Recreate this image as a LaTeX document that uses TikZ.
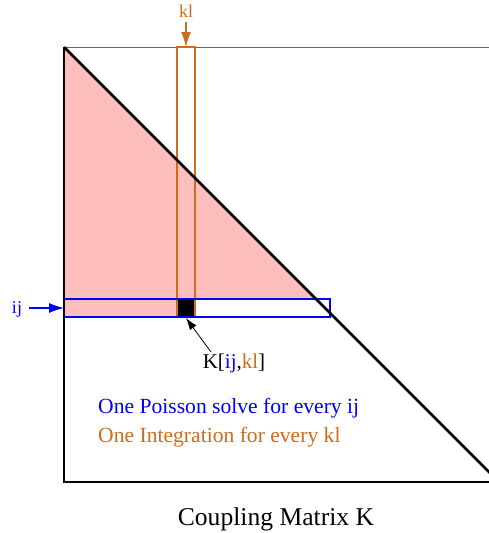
\documentclass[tikz,border=0pt]{standalone}
\usepackage{fontspec}
\setmainfont{Liberation Serif}
\usetikzlibrary{arrows.meta}
\definecolor{klorange}{RGB}{204,108,28}
\definecolor{ijblue}{RGB}{0,0,255}
\definecolor{pinkfill}{RGB}{255,190,190}
\begin{document}
\begin{tikzpicture}[x=1pt,y=-1pt,
  thickline/.style={line width=2.8pt,black},
  arr/.style={-{Latex[length=15pt,width=10pt]}},
  smallarr/.style={-{Latex[length=12pt,width=8pt]}},
  lbl/.style={inner sep=0pt,anchor=base}]
\useasboundingbox (0,0) rectangle (489,533);
% coordinates
\coordinate (TL) at (64,47);
\coordinate (BL) at (64,482);
\coordinate (BR) at (489,482);
\coordinate (TR) at (489,47);
\coordinate (DR) at (499,482);
% pink fill
\fill[pinkfill] (64,47) -- (316,299) -- (64,299) -- cycle;
\fill[pinkfill] (64,299) rectangle (177,317);
% black square
\fill[black] (177,299) rectangle (195,317);
% top line
\draw[line width=1pt,black!60] (TL) -- (TR);
% kl column
\draw[klorange,line width=1.5pt] (177,47) rectangle (195,317);
% ij row
\draw[ijblue,line width=1.8pt] (64,299) rectangle (330,317);
% matrix frame
\draw[thickline] (TL) -- (BL) -- (BR);
\begin{scope}
\clip (0,0) rectangle (489,533);
\draw[thickline] (TL) -- (DR);
\end{scope}
% labels
\node[lbl,klorange,font=\fontsize{18}{20}\selectfont] (kl) at (186,17) {kl};
\coordinate (klend) at (186,47);
\draw[klorange,line width=1.2pt,arr] (186,22) -- (klend);
\node[lbl,ijblue,font=\fontsize{18}{20}\selectfont] (ij) at (17,313) {ij};
\coordinate (ijend) at (64,308);
\draw[ijblue,line width=1.2pt,arr] (29,308) -- (ijend);
\node[lbl,font=\fontsize{21}{24}\selectfont] (K) at (234,368) {K[\textcolor{ijblue}{ij},\textcolor{klorange}{kl}]};
\coordinate (sq) at (186,318);
\draw[black,line width=0.8pt,smallarr] (211,352) -- (sq);
\node[lbl,anchor=base west,ijblue,font=\fontsize{21.6}{24}\selectfont] (t1) at (98,413) {One Poisson solve for every ij};
\node[lbl,anchor=base west,klorange,font=\fontsize{21.6}{24}\selectfont] (t2) at (98,442) {One Integration for every kl};
\node[lbl,font=\fontsize{25.6}{30}\selectfont] (title) at (276,525) {Coupling Matrix K};
\end{tikzpicture}
\end{document}
